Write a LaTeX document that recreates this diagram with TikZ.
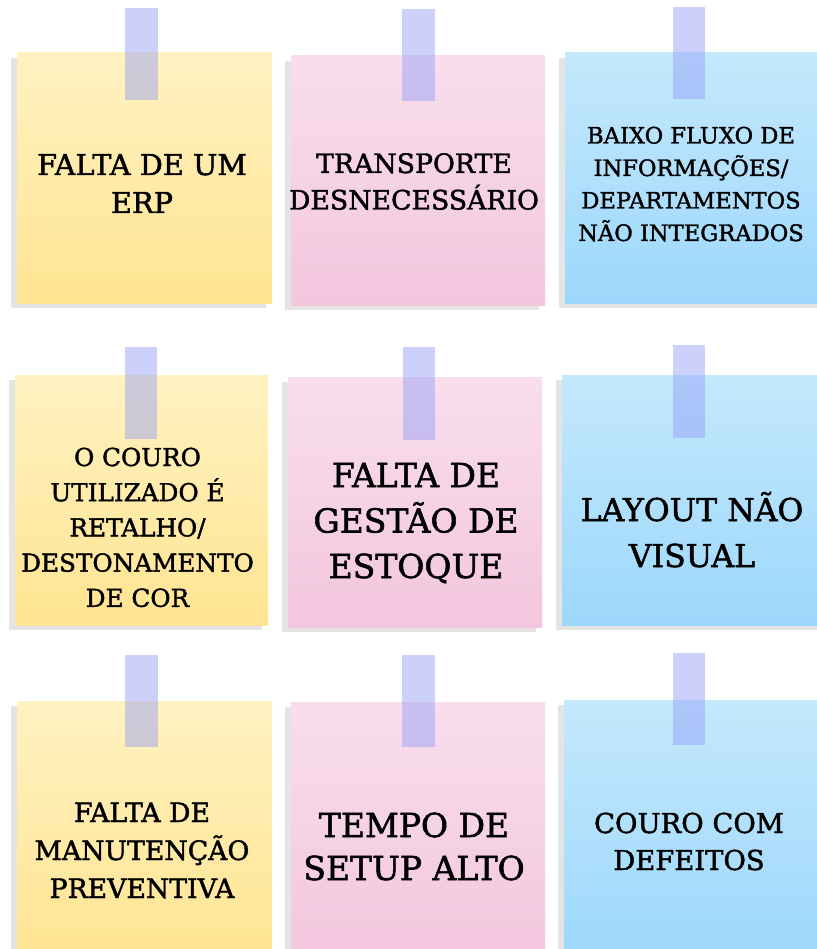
\documentclass[tikz,border=0pt]{standalone}
\usepackage{fontspec}
\newfontfamily\notefont[FakeBold=1.6]{DejaVu Serif}
\definecolor{shadowgray}{RGB}{228,228,228}
\definecolor{ytop}{RGB}{255,242,194}
\definecolor{ybot}{RGB}{255,228,145}
\definecolor{ptop}{RGB}{248,222,236}
\definecolor{pbot}{RGB}{243,198,221}
\definecolor{btop}{RGB}{196,232,252}
\definecolor{bbot}{RGB}{156,216,252}
\definecolor{tapeblue}{RGB}{144,155,248}
\newcommand\notelines[2]{\vtop{\baselineskip=#1\lineskiplimit=-1000pt\lineskip=0pt\halign{\hfil##\hfil\cr#2\crcr}}}
\newcommand\nsize[1]{\notefont\fontsize{#1}{#1}\selectfont}
\tikzset{
  shadowbox/.style={fill=shadowgray,draw=none},
  ynote/.style={top color=ytop,bottom color=ybot,draw=none},
  pnote/.style={top color=ptop,bottom color=pbot,draw=none},
  bnote/.style={top color=btop,bottom color=bbot,draw=none},
  tape/.style={fill=tapeblue,fill opacity=0.45,draw=none},
  notetxt/.style={anchor=base,inner sep=0pt,outer sep=0pt,text=black}
}
\begin{document}
\begin{tikzpicture}[x=1pt,y=-1pt]
\useasboundingbox (0,0) rectangle (816,949);
\fill[white] (0,0) rectangle (816,949);
% row 1
\fill[shadowbox] (11,58) rectangle (266,308);
\shade[ynote] (17,53) rectangle (272,303);
\fill[tape] (125,8) rectangle (158,100);
\node[notetxt,font=\nsize{28.8}] (t1) at (142,175) {\notelines{38pt}{FALTA DE UM\cr ERP}};
\fill[shadowbox] (285,61) rectangle (539,310);
\shade[pnote] (291,56) rectangle (545,305);
\fill[tape] (402,9) rectangle (435,101);
\node[notetxt,font=\nsize{26.7}] (t2) at (414,173) {\notelines{36.5pt}{TRANSPORTE\cr DESNECESSÁRIO}};
\fill[shadowbox] (559,58) rectangle (824,308);
\shade[bnote] (565,53) rectangle (830,303);
\fill[tape] (673,7) rectangle (705,99);
\node[notetxt,font=\nsize{22.6}] (t3) at (691,143.5) {\notelines{32.5pt}{BAIXO FLUXO DE\cr INFORMAÇÕES/\cr DEPARTAMENTOS\cr NÃO INTEGRADOS}};
% row 2
\fill[shadowbox] (9,380) rectangle (262,630);
\shade[ynote] (15,375) rectangle (268,625);
\fill[tape] (125,347) rectangle (157,439);
\node[notetxt,font=\nsize{24.7}] (t4) at (137.5,466) {\notelines{35.2pt}{O COURO\cr UTILIZADO É\cr RETALHO/\cr DESTONAMENTO\cr DE COR}};
\fill[shadowbox] (282,382) rectangle (536,632);
\shade[pnote] (288,377) rectangle (542,627);
\fill[tape] (403,347) rectangle (435,440);
\node[notetxt,font=\nsize{33}] (t5) at (416,487) {\notelines{45.5pt}{FALTA DE\cr GESTÃO DE\cr ESTOQUE}};
\fill[shadowbox] (556,380) rectangle (824,630);
\shade[bnote] (562,375) rectangle (830,625);
\fill[tape] (673,345) rectangle (705,438);
\node[notetxt,font=\nsize{31.5}] (t6) at (692,521) {\notelines{46pt}{LAYOUT NÃO\cr VISUAL}};
% row 3
\fill[shadowbox] (11,706) rectangle (266,965);
\shade[ynote] (17,701) rectangle (272,960);
\fill[tape] (125,655) rectangle (158,747);
\node[notetxt,font=\nsize{26.7}] (t7) at (142,822) {\notelines{38pt}{FALTA DE\cr MANUTENÇÃO\cr PREVENTIVA}};
\fill[shadowbox] (285,707) rectangle (539,965);
\shade[pnote] (291,702) rectangle (545,960);
\fill[tape] (402,655) rectangle (435,747);
\node[notetxt,font=\nsize{33}] (t8) at (414,837) {\notelines{43pt}{TEMPO DE\cr SETUP ALTO}};
\fill[shadowbox] (558,705) rectangle (824,965);
\shade[bnote] (564,700) rectangle (830,960);
\fill[tape] (673,653) rectangle (705,745);
\node[notetxt,font=\nsize{27.4}] (t9) at (689,833) {\notelines{37pt}{COURO COM\cr DEFEITOS}};
\end{tikzpicture}
\end{document}
